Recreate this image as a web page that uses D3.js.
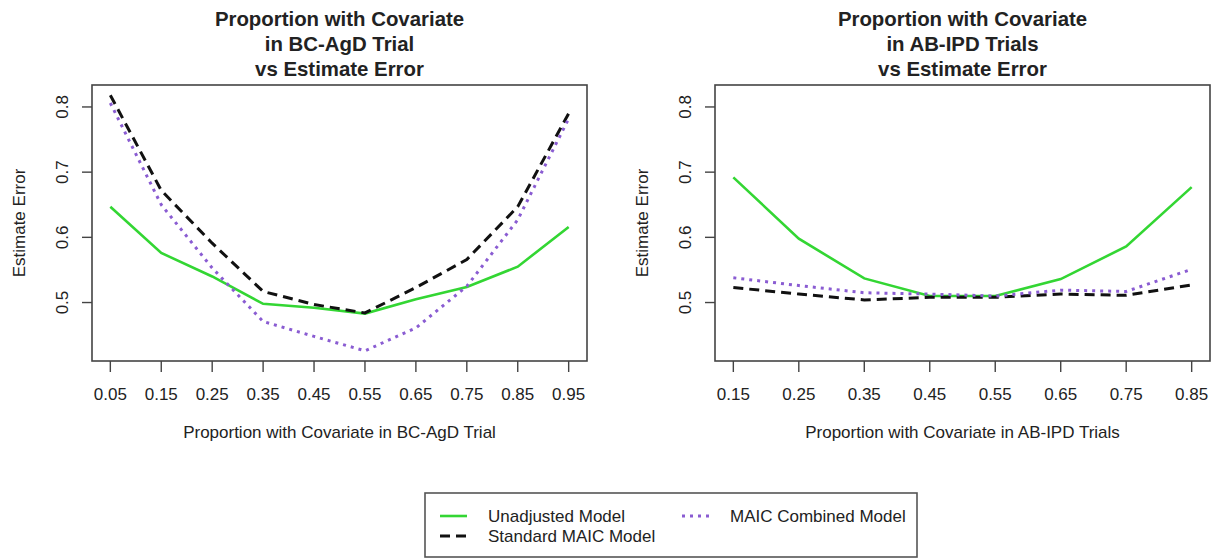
<!doctype html>
<html lang="en">
<head>
<meta charset="UTF-8">
<title>Proportion with Covariate vs Estimate Error</title>
<script src="https://d3js.org/d3.v7.min.js"></script>
<style>
body { margin: 0; background: #ffffff; font-family: "Liberation Sans", Arial, sans-serif; }
svg { display: block; }
text { fill: #222; }
.frame { fill: none; stroke: #444; stroke-width: 1.6; }
.tick-mark { stroke: #444; stroke-width: 1.4; }
path.series { fill: none; }
</style>
</head>
<body>
<div id="plot"></div>
<script>

// --- data ---
var leftX = [0.05, 0.15, 0.25, 0.35, 0.45, 0.55, 0.65, 0.75, 0.85, 0.95];
var leftUnadjusted = [0.647, 0.576, 0.540, 0.498, 0.492, 0.483, 0.505, 0.524, 0.555, 0.616];
var leftStandard   = [0.818, 0.672, 0.591, 0.517, 0.497, 0.484, 0.523, 0.566, 0.647, 0.790];
var leftCombined   = [0.806, 0.650, 0.553, 0.471, 0.448, 0.426, 0.461, 0.525, 0.627, 0.782];

var rightX = [0.15, 0.25, 0.35, 0.45, 0.55, 0.65, 0.75, 0.85];
var rightUnadjusted = [0.692, 0.598, 0.537, 0.510, 0.510, 0.536, 0.586, 0.677];
var rightStandard   = [0.523, 0.513, 0.504, 0.508, 0.508, 0.513, 0.511, 0.527];
var rightCombined   = [0.538, 0.526, 0.515, 0.513, 0.510, 0.519, 0.517, 0.551];

var yTicks = [0.5, 0.6, 0.7, 0.8];

var leftTitle = ["Proportion with Covariate", "in BC-AgD Trial", "vs Estimate Error"];
var rightTitle = ["Proportion with Covariate", "in AB-IPD Trials", "vs Estimate Error"];
var leftXLabel = "Proportion with Covariate in BC-AgD Trial";
var rightXLabel = "Proportion with Covariate in AB-IPD Trials";
var yLabel = "Estimate Error";

var seriesNames = ["Unadjusted Model", "Standard MAIC Model", "MAIC Combined Model"];

var width = 1217;
var height = 560;

var styles = [
	{ color: "#33d633", width: 2.6, dash: null },
	{ color: "#111111", width: 3, dash: "10,6" },
	{ color: "#8a5cd2", width: 3, dash: "3,5" }
];

var svg = d3.select("#plot").append("svg")
	.attr("width", width)
	.attr("height", height);

// R-style 4% padding around the data range
function padded(lo, hi) {
	var r = hi - lo;
	return [lo - 0.04 * r, hi + 0.04 * r];
}

var allY = leftUnadjusted.concat(leftStandard, leftCombined, rightUnadjusted, rightStandard, rightCombined);
var yDomain = padded(d3.min(allY), d3.max(allY));

var plotTop = 85, plotBottom = 361;

function drawPanel(x0, x1, xs, series, titleLines, xLabel) {
	var xScale = d3.scaleLinear().domain(padded(d3.min(xs), d3.max(xs))).range([x0, x1]);
	var yScale = d3.scaleLinear().domain(yDomain).range([plotBottom, plotTop]);
	var g = svg.append("g");
	var cx = (x0 + x1) / 2;

	// title
	titleLines.forEach(function (t, i) {
		g.append("text")
		.attr("x", cx)
		.attr("y", 26 + i * 25)
		.attr("text-anchor", "middle")
		.style("font-size", "20.4px")
		.style("font-weight", "bold")
		.text(t);
	});

	// series
	var line = d3.line()
		.x(function (d) { return xScale(d[0]); })
		.y(function (d) { return yScale(d[1]); });

	series.forEach(function (vals, k) {
		g.append("path")
		.attr("class", "series")
		.attr("d", line(xs.map(function (x, i) { return [x, vals[i]]; })))
		.style("stroke", styles[k].color)
		.style("stroke-width", styles[k].width)
		.style("stroke-dasharray", styles[k].dash);
	});

	// frame
	g.append("rect")
	.attr("class", "frame")
	.attr("x", x0)
	.attr("y", plotTop)
	.attr("width", x1 - x0)
	.attr("height", plotBottom - plotTop);

	// x axis
	xs.forEach(function (x) {
		g.append("line")
		.attr("class", "tick-mark")
		.attr("x1", xScale(x)).attr("x2", xScale(x))
		.attr("y1", plotBottom).attr("y2", plotBottom + 11);
		g.append("text")
		.attr("x", xScale(x))
		.attr("y", 400)
		.attr("text-anchor", "middle")
		.style("font-size", "17px")
		.text(d3.format(".2f")(x));
	});

	g.append("text")
	.attr("x", cx)
	.attr("y", 438)
	.attr("text-anchor", "middle")
	.style("font-size", "17px")
	.text(xLabel);

	// y axis
	yTicks.forEach(function (v) {
		g.append("line")
		.attr("class", "tick-mark")
		.attr("x1", x0 - 10).attr("x2", x0)
		.attr("y1", yScale(v)).attr("y2", yScale(v));
		g.append("text")
		.attr("transform", "translate(" + (x0 - 24) + "," + yScale(v) + ") rotate(-90)")
		.attr("text-anchor", "middle")
		.style("font-size", "17px")
		.text(d3.format(".1f")(v));
	});

	g.append("text")
	.attr("transform", "translate(" + (x0 - 67) + "," + ((plotTop + plotBottom) / 2) + ") rotate(-90)")
	.attr("text-anchor", "middle")
	.style("font-size", "17px")
	.text(yLabel);
}

drawPanel(92, 587, leftX, [leftUnadjusted, leftStandard, leftCombined], leftTitle, leftXLabel);
drawPanel(715, 1210, rightX, [rightUnadjusted, rightStandard, rightCombined], rightTitle, rightXLabel);

// legend
var legend = svg.append("g");
legend.append("rect")
	.attr("x", 425).attr("y", 493)
	.attr("width", 492).attr("height", 64)
	.style("fill", "none")
	.style("stroke", "#555")
	.style("stroke-width", 1.6);

var legendPos = [
	{ sx: 440, tx: 488, y: 516 },
	{ sx: 440, tx: 488, y: 536 },
	{ sx: 682, tx: 730, y: 516 }
];

seriesNames.forEach(function (name, k) {
	var p = legendPos[k];
	legend.append("line")
	.attr("x1", p.sx).attr("x2", p.sx + 27)
	.attr("y1", p.y).attr("y2", p.y)
	.style("stroke", styles[k].color)
	.style("stroke-width", styles[k].width)
	.style("stroke-dasharray", styles[k].dash);
	legend.append("text")
	.attr("x", p.tx)
	.attr("y", p.y + 6)
	.style("font-size", "17px")
	.text(name);
});

</script>
</body>
</html>
